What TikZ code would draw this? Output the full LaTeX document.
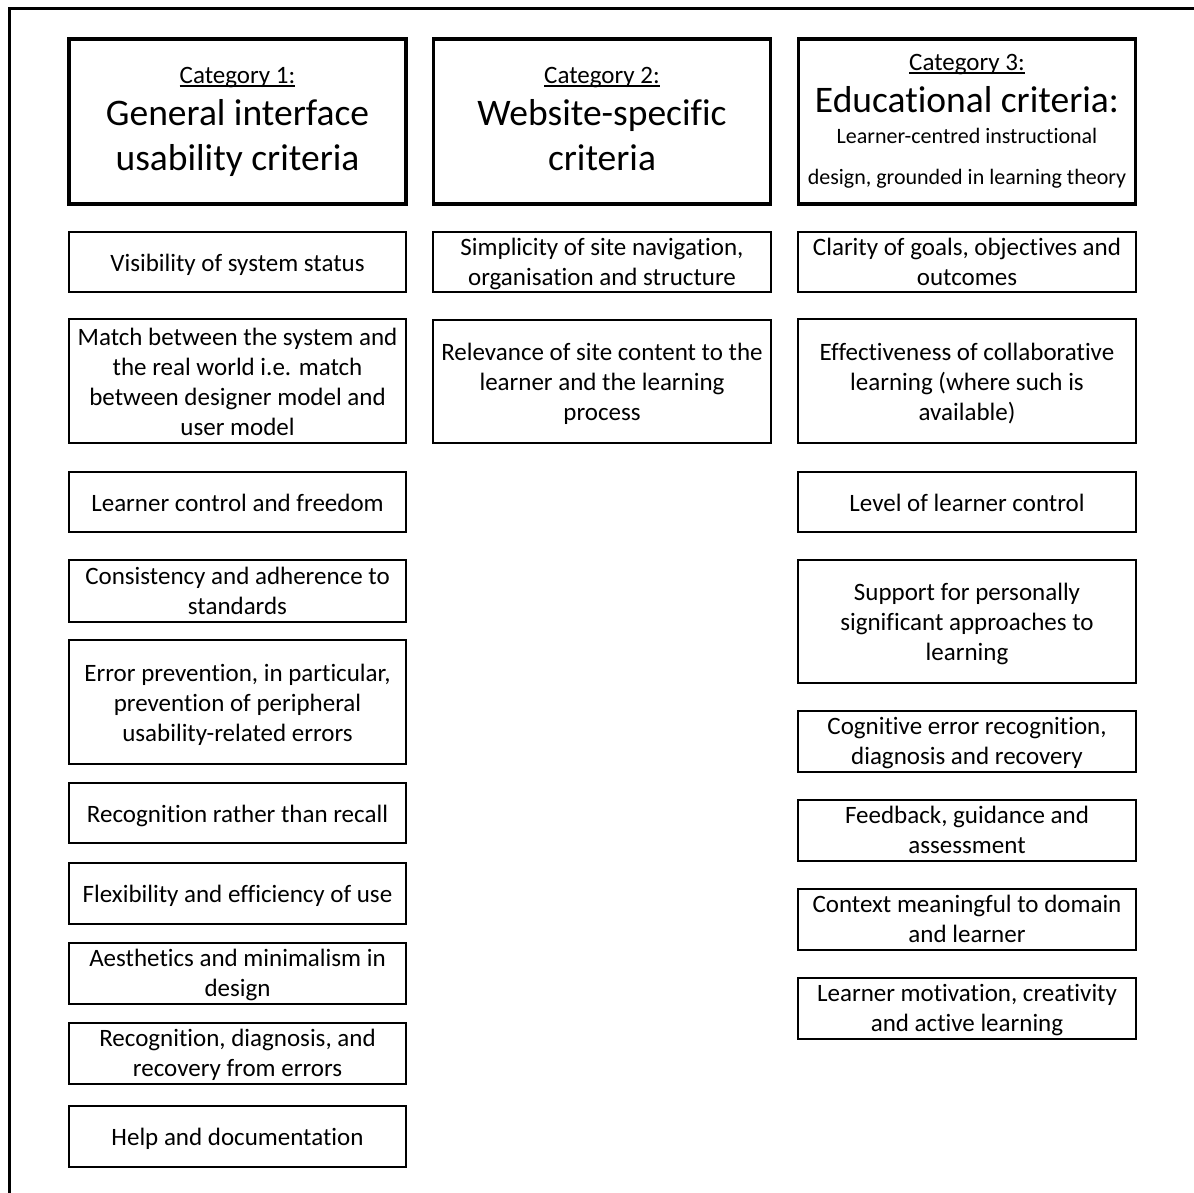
\documentclass[tikz,border=0pt]{standalone}
\usepackage{fontspec}
\setmainfont{Carlito}[Ligatures=CommonOff]
% underline drawn as a rule just under the baseline
\newcommand\catul[1]{\setbox0\hbox{#1}\rlap{\rule[-3pt]{\wd0}{1.6pt}}\box0}
% criterion box: name, x, y, width, height, text drop, text
\newcommand\critbox[7]{%
  \node[crit, minimum width=#4pt, minimum height=#5pt] (#1) at (#2,#3) {};
  \node[crittxt] (#1t) at ([yshift=-#6pt]#1.center) {#7};}
\begin{document}
\begin{tikzpicture}[x=1pt,y=-1pt,
  crit/.style={draw=black, line width=1.8pt, inner sep=0pt},
  crittxt/.style={inner sep=0pt, align=center, font=\fontsize{25}{30}\selectfont,
    execute at begin node=\strut, execute at end node=\strut},
  cathead/.style={draw=black, line width=3.8pt, minimum width=337pt,
    minimum height=165pt, inner sep=0pt},
  catlbl/.style={anchor=base, inner sep=0pt, font=\fontsize{25}{30}\selectfont},
  bigttl/.style={anchor=base, inner sep=0pt, font=\fontsize{37.5}{45}\selectfont},
  subttl/.style={anchor=base, inner sep=0pt, font=\fontsize{22}{26}\selectfont},
]
\useasboundingbox (0,0) rectangle (1194,1193);
\fill[white] (0,0) rectangle (1194,1193);

% frame: top and left rules
\coordinate (fr0) at (9.5,1193);
\coordinate (fr1) at (9.5,9);
\coordinate (fr2) at (1194,9);
\draw[line width=3pt, line join=miter] (fr0) -- (fr1) -- (fr2);

% category headers
\node[cathead] (h1) at (237.5,121.5) {};
\node[cathead] (h2) at (602,121.5) {};
\node[cathead] (h3) at (967,121.5) {};

\node[catlbl] (h1a) at (237.5,84) {\catul{Category 1:}};
\node[bigttl] (h1b) at (237.5,126) {General interface};
\node[bigttl] (h1c) at (237.5,171) {usability criteria};

\node[catlbl] (h2a) at (602,84) {\catul{Category 2:}};
\node[bigttl] (h2b) at (602,126) {Website-specific};
\node[bigttl] (h2c) at (602,171) {criteria};

\node[catlbl] (h3a) at (967,71) {\catul{Category 3:}};
\node[bigttl] (h3b) at (967,113) {Educational criteria:};
\node[subttl] (h3c) at (967,144) {Learner-centred instructional};
\node[subttl] (h3d) at (967,185) {design, grounded in learning theory};

% column 1: general interface usability
\critbox{a1}{237.5}{262}{337}{60}{3}{Visibility of system status}
\critbox{a2}{237.5}{381}{337}{124}{5}{Match between the system and\\the real world i.e. match\\between designer model and\\user model}
\critbox{a3}{237.5}{502}{337}{60}{3}{Learner control and freedom}
\critbox{a4}{237.5}{591}{337}{62}{4}{Consistency and adherence to\\standards}
\critbox{a5}{237.5}{702}{337}{124}{5}{Error prevention, in particular,\\prevention of peripheral\\usability-related errors}
\critbox{a6}{237.5}{813}{337}{60}{3}{Recognition rather than recall}
\critbox{a7}{237.5}{893.5}{337}{61}{3}{Flexibility and efficiency of use}
\critbox{a8}{237.5}{973.5}{337}{61}{4}{Aesthetics and minimalism in\\design}
\critbox{a9}{237.5}{1053.5}{337}{61}{4}{Recognition, diagnosis, and\\recovery from errors}
\critbox{a10}{237.5}{1136.5}{337}{61}{3}{Help and documentation}

% column 2: website-specific
\critbox{b1}{602}{262}{338}{60}{4}{Simplicity of site navigation,\\organisation and structure}
\critbox{b2}{602}{381.5}{338}{123}{5}{Relevance of site content to the\\learner and the learning\\process}

% column 3: educational
\critbox{c1}{967}{262}{338}{60}{4}{Clarity of goals, objectives and\\outcomes}
\critbox{c2}{967}{381}{338}{124}{5}{Effectiveness of collaborative\\learning (where such is\\available)}
\critbox{c3}{967}{502}{338}{60}{3}{Level of learner control}
\critbox{c4}{967}{621.5}{338}{123}{5}{Support for personally\\significant approaches to\\learning}
\critbox{c5}{967}{741.5}{338}{61}{4}{Cognitive error recognition,\\diagnosis and recovery}
\critbox{c6}{967}{830.5}{338}{61}{4}{Feedback, guidance and\\assessment}
\critbox{c7}{967}{919.5}{338}{61}{4}{Context meaningful to domain\\and learner}
\critbox{c8}{967}{1008.5}{338}{61}{4}{Learner motivation, creativity\\and active learning}
\end{tikzpicture}
\end{document}
